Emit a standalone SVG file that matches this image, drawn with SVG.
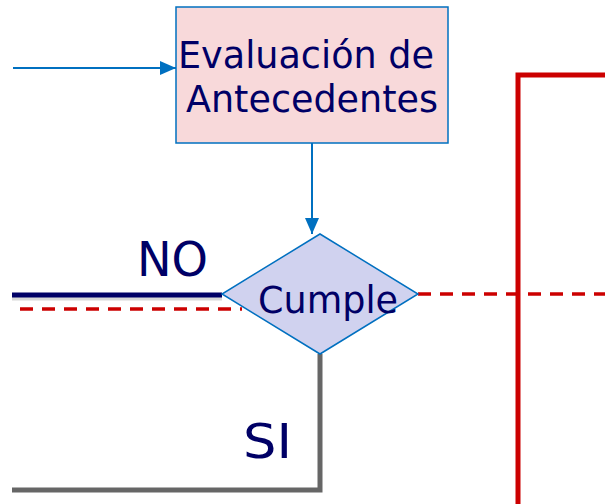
<svg xmlns="http://www.w3.org/2000/svg" width="605" height="504" viewBox="0 0 605 504">
<style>
.t{font-family:"DejaVu Sans","Liberation Sans",sans-serif;fill:#000066}
.blue{stroke:#0070c0;stroke-width:2;fill:none}
.red{stroke:#cc0000;fill:none}
</style>
<defs>
<marker id="ah2" viewBox="0 0 10 10" refX="10" refY="5" markerWidth="16" markerHeight="14" markerUnits="userSpaceOnUse" orient="auto" preserveAspectRatio="none"><path d="M0,0 L10,5 L0,10 z" fill="#0070c0"/></marker>
</defs>
<g id="connectors">
<line x1="13" y1="68" x2="176" y2="68" class="blue" marker-end="url(#ah2)"/>
<line x1="312" y1="143" x2="312" y2="234" class="blue" marker-end="url(#ah2)"/>
<line x1="12" y1="298.5" x2="222" y2="298.5" stroke="#d8d8d8" stroke-width="4"/>
<line x1="12" y1="295" x2="222" y2="295" stroke="#000066" stroke-width="5"/>
<line x1="20" y1="309" x2="242" y2="309" class="red" stroke-width="3.5" stroke-dasharray="13,9"/>
<line x1="418" y1="294" x2="605" y2="294" class="red" stroke-width="3.5" stroke-dasharray="13,9"/>
<polyline points="518,504 518,75 605,75" class="red" stroke-width="5"/>
<polyline points="320,354 320,490 12,490" fill="none" stroke="#666666" stroke-width="5"/>
</g>
<g id="evaluacion">
<rect x="176" y="7" width="272" height="136" fill="#f8d9da" stroke="#0070c0" stroke-width="1.5"/>
<text class="t" x="178" y="68" font-size="37" textLength="256" lengthAdjust="spacingAndGlyphs">Evaluación de</text>
<text class="t" x="186" y="112" font-size="37" textLength="252" lengthAdjust="spacingAndGlyphs">Antecedentes</text>
</g>
<g id="cumple">
<polygon points="320,234 418,294 320,354 222,294" fill="#d0d2ef" stroke="#0070c0" stroke-width="1.5"/>
<text class="t" x="258" y="313" font-size="37" textLength="140" lengthAdjust="spacingAndGlyphs">Cumple</text>
</g>
<g id="labels">
<text class="t" x="137" y="276" font-size="48" textLength="71" lengthAdjust="spacingAndGlyphs">NO</text>
<text class="t" x="243" y="458" font-size="48" textLength="49" lengthAdjust="spacingAndGlyphs">SI</text>
</g>
</svg>
